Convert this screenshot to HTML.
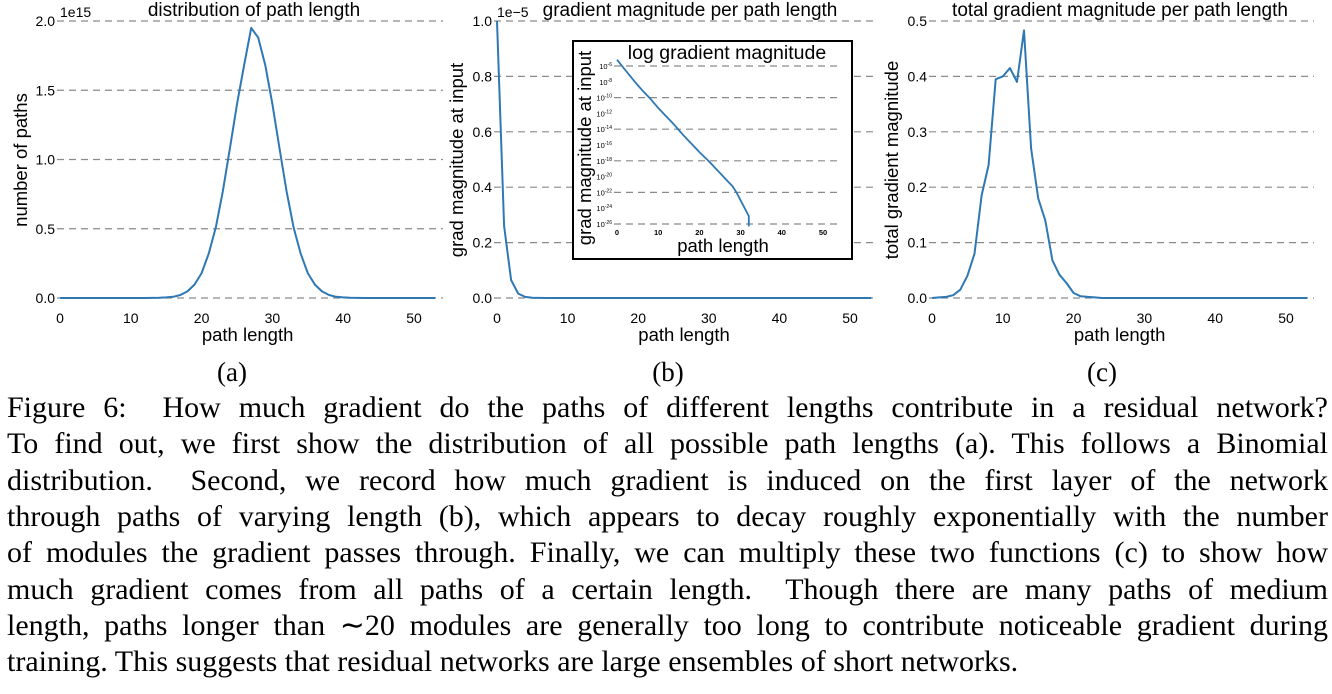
<!DOCTYPE html>
<html><head><meta charset="utf-8"><style>
body{margin:0;background:#fff;width:1332px;height:694px;overflow:hidden;position:relative}
svg{position:absolute;left:0;top:0}
.cap{position:absolute;left:7px;width:1321px;font-family:"Liberation Serif",serif;font-size:30px;line-height:32px;text-align:justify;text-align-last:justify;white-space:nowrap;color:#000}
.cap.last{text-align-last:left}
</style></head><body>
<svg id="fig" width="1332" height="694" font-family="Liberation Sans, sans-serif"></svg>
<div>
<div class="cap" style="top:392px">Figure 6: &nbsp;How much gradient do the paths of different lengths contribute in a residual network?</div>
<div class="cap" style="top:428px">To find out, we first show the distribution of all possible path lengths (a). This follows a Binomial</div>
<div class="cap" style="top:465px">distribution. &nbsp;Second, we record how much gradient is induced on the first layer of the network</div>
<div class="cap" style="top:501px">through paths of varying length (b), which appears to decay roughly exponentially with the number</div>
<div class="cap" style="top:537px">of modules the gradient passes through. Finally, we can multiply these two functions (c) to show how</div>
<div class="cap" style="top:574px">much gradient comes from all paths of a certain length. &nbsp;Though there are many paths of medium</div>
<div class="cap" style="top:610px">length, paths longer than ∼20 modules are generally too long to contribute noticeable gradient during</div>
<div class="cap last" style="top:646px">training. This suggests that residual networks are large ensembles of short networks.</div>
</div>
<script>
const pathLengthsA = [0,0,0,0,0,0,0,0,0,0,0,0,0,0.0005,0.0014,0.004,0.009,0.022,0.048,0.097,0.18,0.32,0.51,0.77,1.08,1.40,1.68,1.95,1.88,1.68,1.40,1.08,0.77,0.51,0.32,0.18,0.097,0.048,0.022,0.009,0.004,0.0014,0.0005,0,0,0,0,0,0,0,0,0,0,0];
const gradB = [1.0,0.26,0.065,0.016,0.004,0.001,0.0003,0.0001,0,0,0,0,0,0,0,0,0,0,0,0,0,0,0,0,0,0,0,0,0,0,0,0,0,0,0,0,0,0,0,0,0,0,0,0,0,0,0,0,0,0,0,0,0,0];
const logGradInset = [-5.2,-5.85,-6.5,-7.15,-7.8,-8.4,-9.0,-9.55,-10.1,-10.7,-11.3,-11.85,-12.4,-12.95,-13.5,-14.1,-14.7,-15.25,-15.8,-16.35,-16.9,-17.4,-17.9,-18.45,-19.0,-19.55,-20.1,-20.65,-21.2,-22.0,-23.0,-24.0,-25.0,-26.3];
const logGradX = [0,1,2,3,4,5,6,7,8,9,10,11,12,13,14,15,16,17,18,19,20,21,22,23,24,25,26,27,28,29,30,31,32,32];
const totalC = [0,0.001,0.002,0.005,0.015,0.04,0.08,0.185,0.24,0.395,0.40,0.415,0.39,0.483,0.27,0.18,0.14,0.068,0.042,0.027,0.009,0.003,0.002,0.001,0,0,0,0,0,0,0,0,0,0,0,0,0,0,0,0,0,0,0,0,0,0,0,0,0,0,0,0,0,0];
const xTicks = [0,10,20,30,40,50];
const yTicksA = ["0.0","0.5","1.0","1.5","2.0"];
const yTicksB = ["0.0","0.2","0.4","0.6","0.8","1.0"];
const yTicksC = ["0.0","0.1","0.2","0.3","0.4","0.5"];
const insetTickExp = [-6,-8,-10,-12,-14,-16,-18,-20,-22,-24,-26];

const NS="http://www.w3.org/2000/svg";
const svg=document.getElementById('fig');
function mk(tag,attrs,parent,text){const e=document.createElementNS(NS,tag);for(const k in attrs)e.setAttribute(k,attrs[k]);if(text!==undefined)e.textContent=text;(parent||svg).appendChild(e);return e;}
const BLUE="#2e78b4";

function panel(id,x0,ppu,gridEnd,yticks,ymax,data,title,titleX,ylabel,ylabX,offText,letter,letterX){
  const g=mk('g',{});
  
  
  const y0=298,y1=21;
  const sx=v=>x0+v*ppu, sy=v=>y0-(v/ymax)*(y0-y1);
  yticks.forEach((t,i)=>{
    const v=parseFloat(t);const y=sy(v);
    const l=mk('line',{x1:x0-3,x2:gridEnd,y1:y,y2:y,stroke:'#8a8a8a','stroke-width':1.2,'stroke-dasharray':'7,5'},g);
    
    
    const tx=mk('text',{x:x0-5,y:y+5,'text-anchor':'end','font-size':14},g,t);
    
    
  });
  xTicks.forEach(v=>{
    const tx=mk('text',{x:sx(v),y:323,'text-anchor':'middle','font-size':14},g,String(v));
    
    
  });
  const pts=data.map((v,i)=>sx(i).toFixed(1)+','+sy(v).toFixed(1)).join(' ');
  const pl=mk('polyline',{points:pts,fill:'none',stroke:BLUE,'stroke-width':2,'stroke-linejoin':'round'},g);
  
  
  const t=mk('text',{x:titleX,y:16,'text-anchor':'middle','font-size':19},g,title);
  
  
  if(offText){const o=mk('text',{x:x0,y:17,'font-size':14},g,offText);
    
    }
  const yl=mk('text',{x:ylabX,y:160,'text-anchor':'middle','font-size':18.5,transform:`rotate(-90 ${ylabX} 160)`},g,ylabel);
  
  
  const xl=mk('text',{x:sx(26.5),y:341,'text-anchor':'middle','font-size':18.5},g,'path length');
  
  
  const le=mk('text',{x:letterX,y:381,'text-anchor':'middle','font-size':27,'font-family':'Liberation Serif, serif'},g,letter);
  
  
  return g;
}
panel('panel-a',60,7.08,443,yTicksA,2.0,pathLengthsA,'distribution of path length',254,'number of paths',27,'1e15','(a)',232);
panel('panel-b',497,7.06,878,yTicksB,1.0,gradB,'gradient magnitude per path length',690,'grad magnitude at input',463,'1e−5','(b)',668);
panel('panel-c',932,7.08,1314,yTicksC,0.5,totalC,'total gradient magnitude per path length',1120,'total gradient magnitude',898,null,'(c)',1102);

// inset
const ig=mk('g',{});


const box=mk('rect',{x:573,y:41,width:279,height:218,fill:'#fff',stroke:'#000','stroke-width':2},ig);


const ix=v=>617+v*4.12, iy=e=>66+(-6-e)*7.9;
insetTickExp.forEach((e,i)=>{
  const y=iy(e);
  if(i%2===0){const l=mk('line',{x1:614,x2:840,y1:y,y2:y,stroke:'#8a8a8a','stroke-width':1.2,'stroke-dasharray':'7,5'},ig);
    
    }
  const t=mk('text',{x:612,y:y+3,'text-anchor':'end','font-size':7.5},ig);
  
  
  mk('tspan',{},t,'10');
  mk('tspan',{dy:-3,'font-size':5},t,String(e));
});
xTicks.forEach(v=>{
  const t=mk('text',{x:ix(v),y:235,'text-anchor':'middle','font-size':7.5,'font-weight':'bold'},ig,String(v));
  
  
});
const ipts=logGradInset.map((e,i)=>ix(logGradX[i]).toFixed(1)+','+iy(e).toFixed(1)).join(' ');
const ipl=mk('polyline',{points:ipts,fill:'none',stroke:BLUE,'stroke-width':1.8},ig);


const it=mk('text',{x:727,y:59,'text-anchor':'middle','font-size':19.5},ig,'log gradient magnitude');


const iyl=mk('text',{x:591,y:148,'text-anchor':'middle','font-size':18.5,transform:'rotate(-90 591 148)'},ig,'grad magnitude at input');


const ixl=mk('text',{x:723,y:252,'text-anchor':'middle','font-size':18.5},ig,'path length');


</script>
</body></html>
